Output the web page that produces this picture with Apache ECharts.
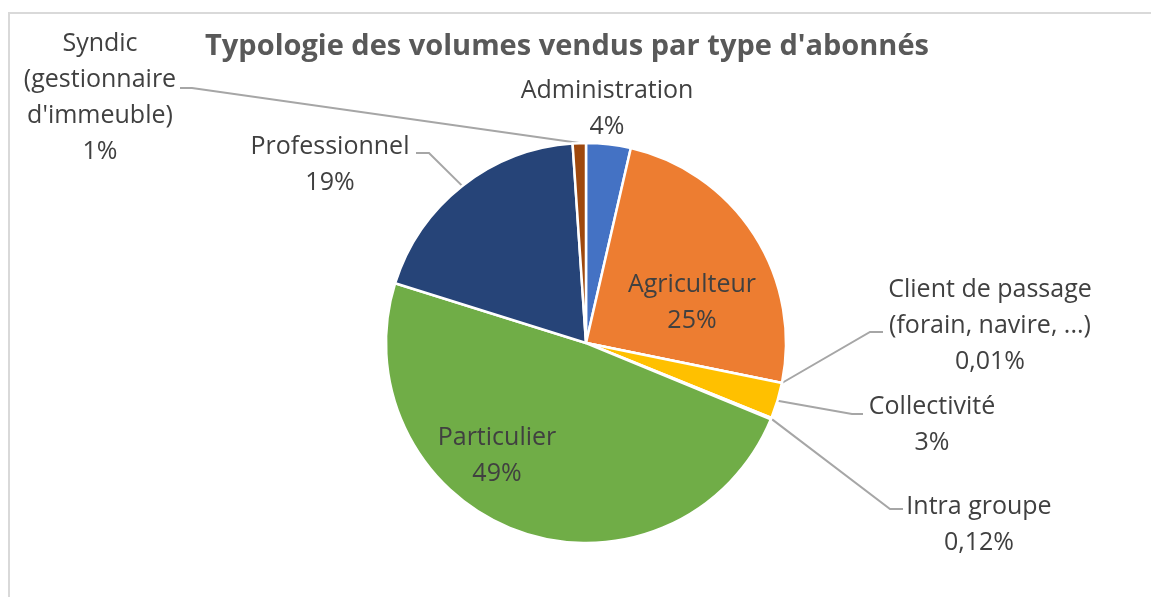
<!DOCTYPE html>
<html><head><meta charset="utf-8">
<script src="https://cdn.jsdelivr.net/npm/echarts@6/dist/echarts.min.js"></script>
<style>html,body{margin:0;padding:0;background:#fff}#c{width:1151px;height:597px}</style>
</head><body><div id="c"></div>
<script>
const titleText = "Typologie des volumes vendus par type d'abonnés";
const categories = ["Administration", "Agriculteur", "Client de passage\n(forain, navire, ...)", "Collectivité", "Intra groupe", "Particulier", "Professionnel", "Syndic\n(gestionnaire\nd'immeuble)"];
const shares = [3.6, 24.6, 0.01, 2.9, 0.12, 48.6, 19.1, 1.07];
const colors = ["#4472C4", "#ED7D31", "#A5A5A5", "#FFC000", "#5B9BD5", "#70AD47", "#264478", "#9E480E"];

// label placement (text top-center anchor) and leader elbow/end points; null = no leader
const labelPlaces = [
  {x: 607, y: 73, line: null},
  {x: 692, y: 267, line: null},
  {x: 990, y: 272, line: [[870, 332], [883, 332]]},
  {x: 932, y: 389, line: [[852, 414], [863, 414]]},
  {x: 979, y: 489, line: [[890, 509], [903, 509]]},
  {x: 497, y: 420, line: null},
  {x: 330, y: 129, line: [[429, 153], [416, 153]]},
  {x: 100, y: 26, line: [[192, 88], [180, 88]]}
];

function fmtPct(p) {
  return p >= 1 ? Math.round(p) + '%' : p.toFixed(2).replace('.', ',') + '%';
}

const chart = echarts.init(document.getElementById('c'), null, {renderer: 'canvas'});
chart.setOption({
  animation: false,
  backgroundColor: '#ffffff',
  graphic: [{
    type: 'rect', silent: true, z: -1,
    shape: {x: 9, y: 13, width: 1200, height: 700},
    style: {fill: 'none', stroke: '#D9D9D9', lineWidth: 2}
  }],
  title: {
    text: titleText, left: 562, top: 42, textAlign: 'center', textVerticalAlign: 'middle',
    textStyle: {fontFamily: 'Open Sans', fontWeight: 'bold', fontSize: 29, color: '#595959'}
  },
  series: [{
    type: 'pie',
    center: [586, 343],
    radius: 200,
    startAngle: 90,
    clockwise: true,
    avoidLabelOverlap: false,
    emphasis: {disabled: true},
    itemStyle: {borderColor: '#ffffff', borderWidth: 2.5},
    label: {
      show: true, position: 'outside',
      formatter: p => p.name + '\n' + fmtPct(p.percent),
      color: '#404040', fontFamily: 'Open Sans', fontSize: 25, lineHeight: 36, align: 'center'
    },
    labelLine: {show: true, length: 10, length2: 10, lineStyle: {color: '#A6A6A6', width: 2}},
    labelLayout: function (params) {
      const pl = labelPlaces[params.dataIndex];
      const out = {x: pl.x, y: pl.y, align: 'center', verticalAlign: 'top'};
      if (pl.line && params.labelLinePoints) {
        out.labelLinePoints = [params.labelLinePoints[0], pl.line[0], pl.line[1]];
      }
      return out;
    },
    data: categories.map((n, i) => ({
      name: n, value: shares[i],
      itemStyle: {color: colors[i]},
      labelLine: {show: !!labelPlaces[i].line}
    }))
  }]
});
</script></body></html>
